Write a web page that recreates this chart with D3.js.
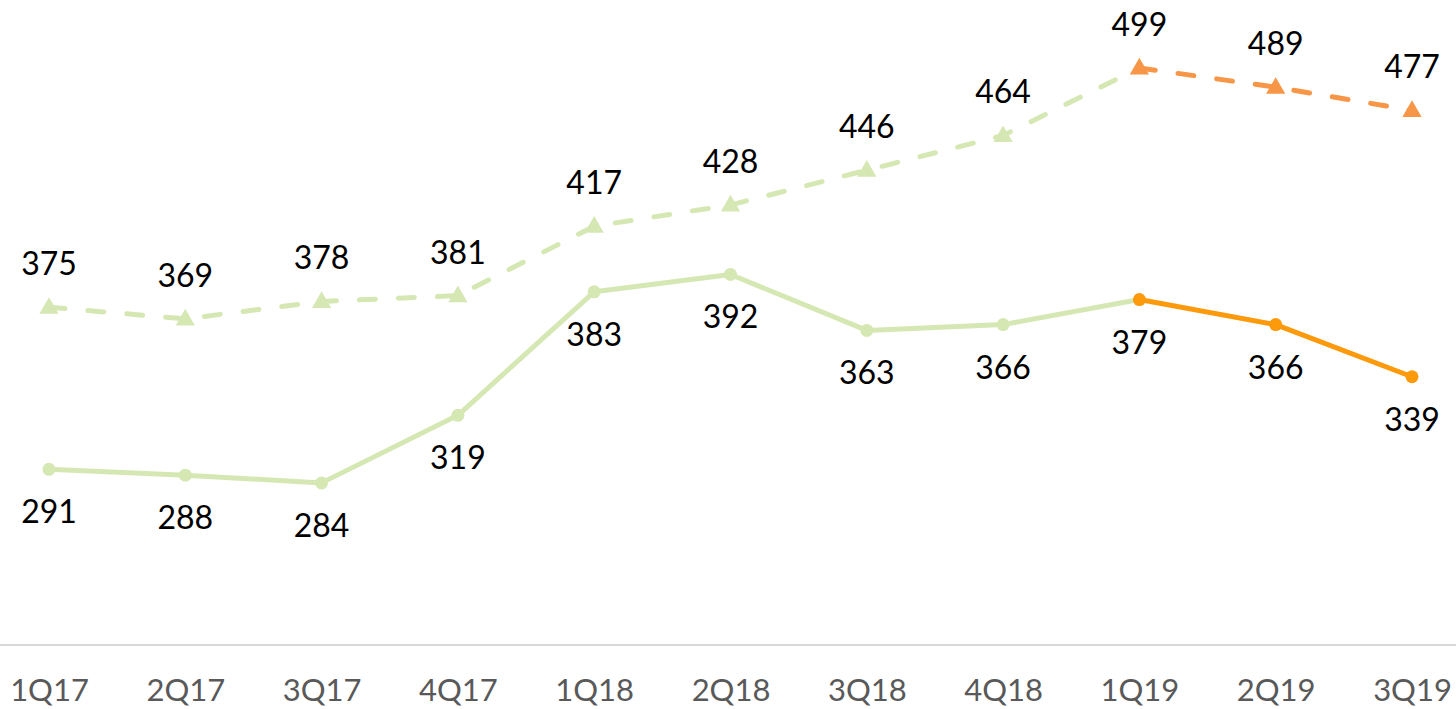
<!DOCTYPE html>
<html><head><meta charset="utf-8">
<script src="https://cdn.jsdelivr.net/npm/d3@7"></script>
<style>html,body{margin:0;padding:0;background:#fff;}svg{display:block;}</style>
</head><body>
<svg id="chart" width="1456" height="709"></svg>
<script>
const categories = ["1Q17","2Q17","3Q17","4Q17","1Q18","2Q18","3Q18","4Q18","1Q19","2Q19","3Q19"];
const dashedValues = [375,369,378,381,417,428,446,464,499,489,477];
const solidValues  = [291,288,284,319,383,392,363,366,379,366,339];
const splitIndex = 8; // orange from 1Q19 on
const yDomain = [200, 500];

const green = "#d5e8b4", orangeSolid = "#fd9a0c", orangeDash = "#f79646";

const svg = d3.select("#chart");
const x = d3.scalePoint().domain(categories).range([49, 1412]);
const y = d3.scaleLinear().domain(yDomain).range([645, 66]);

// axis
const axis = d3.axisBottom(x).tickSize(0).tickPadding(34);
const ag = svg.append("g").attr("transform", "translate(0,645)").call(axis);
ag.select(".domain").remove();
svg.append("line").attr("x1",0).attr("x2",1456).attr("y1",645).attr("y2",645)
  .attr("stroke","#d9d9d9").attr("stroke-width",2);
ag.selectAll("text").attr("font-family","Lato, 'Open Sans', sans-serif")
  .attr("font-size",31).attr("fill","#595959");

const line = d3.line().x(d => x(d.c)).y(d => y(d.v));
const mk = vals => vals.map((v,i)=>({c:categories[i], v, i}));
const dashed = mk(dashedValues), solid = mk(solidValues);

function drawSeries(data, colorA, colorB, dash) {
  const a = data.slice(0, splitIndex+1), b = data.slice(splitIndex);
  [[a,colorA],[b,colorB]].forEach(([seg,col]) => {
    svg.append("path").datum(seg).attr("d", line).attr("fill","none")
      .attr("stroke", col).attr("stroke-width", 5)
      .attr("stroke-linecap","round").attr("stroke-linejoin","round")
      .attr("stroke-dasharray", dash ? "16,23" : null);
  });
}
drawSeries(dashed, green, orangeDash, true);
drawSeries(solid, green, orangeSolid, false);

// markers
const tri = d3.symbol().type(d3.symbolTriangle).size(160);
svg.selectAll(".tri").data(dashed).join("path")
  .attr("d", tri).attr("transform", d => `translate(${x(d.c)},${y(d.v)+1})`)
  .attr("fill", d => d.i >= splitIndex ? orangeDash : green);
svg.selectAll(".dot").data(solid).join("circle")
  .attr("cx", d => x(d.c)).attr("cy", d => y(d.v)).attr("r", 6.5)
  .attr("fill", d => d.i >= splitIndex ? orangeSolid : green);

// labels
svg.selectAll(".lblA").data(dashed).join("text")
  .attr("x", d => x(d.c)).attr("y", d => y(d.v) - 32)
  .attr("text-anchor","middle").attr("font-family","Lato, 'Open Sans', sans-serif")
  .attr("font-size",32).attr("fill","#000").text(d => d.v);
svg.selectAll(".lblB").data(solid).join("text")
  .attr("x", d => x(d.c)).attr("y", d => y(d.v) + 54)
  .attr("text-anchor","middle").attr("font-family","Lato, 'Open Sans', sans-serif")
  .attr("font-size",32).attr("fill","#000").text(d => d.v);
</script>
</body></html>
